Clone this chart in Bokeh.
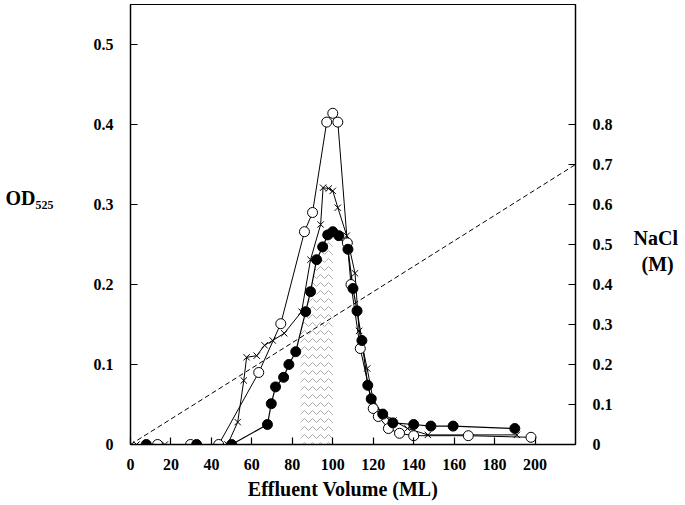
from bokeh.plotting import figure
from bokeh.models import Range1d, LinearAxis, FixedTicker
from bokeh.embed import file_html
from bokeh.resources import INLINE
import numpy as np

# ---- data ----
open_ml = [13.4, 29.7, 43.6, 63.4, 74.3, 86.0, 90.0, 97.0, 100.0, 102.5, 107.2, 109.0,
           113.6, 120.0, 122.5, 127.5, 133.0, 140.0, 167.0, 198.0]
open_od = [0.0, 0.0, 0.0, 0.090, 0.151, 0.266, 0.290, 0.403, 0.414, 0.403, 0.252, 0.200,
           0.120, 0.045, 0.035, 0.020, 0.014, 0.011, 0.011, 0.009]

filled_ml = [7.8, 32.7, 50.0, 67.7, 69.6, 71.7, 75.7, 78.3, 81.7, 86.6, 89.0, 92.0, 95.0,
             97.5, 100.0, 103.0, 107.5, 110.0, 112.0, 114.4, 117.3, 119.0, 124.7, 129.7,
             140.0, 148.5, 159.5, 190.0]
filled_od = [0.0, 0.0, 0.0, 0.025, 0.051, 0.072, 0.084, 0.100, 0.116, 0.166, 0.191, 0.231,
             0.247, 0.262, 0.266, 0.261, 0.244, 0.195, 0.167, 0.130, 0.074, 0.057, 0.038,
             0.027, 0.025, 0.023, 0.023, 0.020]

cross_ml = [3.0, 17.0, 48.0, 53.0, 56.0, 57.4, 62.4, 66.3, 70.3, 76.0, 84.6, 89.0, 94.0,
            95.2, 98.0, 100.0, 102.5, 106.9, 111.0, 113.0, 117.0, 120.0, 124.0, 130.0,
            137.0, 147.0, 191.0]
cross_od = [0.0, 0.0, 0.0, 0.028, 0.080, 0.109, 0.111, 0.124, 0.130, 0.139, 0.166, 0.231,
            0.275, 0.321, 0.320, 0.317, 0.296, 0.261, 0.214, 0.142, 0.095, 0.055, 0.040,
            0.030, 0.020, 0.012, 0.012]

gradient_ml = [0.0, 220.0]
gradient_nacl = [0.0, 0.7]

pooled_ml = [84.0, 100.0]

x_ticks = [0, 20, 40, 60, 80, 100, 120, 140, 160, 180, 200]
od_ticks = [0.0, 0.1, 0.2, 0.3, 0.4, 0.5]
nacl_ticks = [0.0, 0.1, 0.2, 0.3, 0.4, 0.5, 0.6, 0.7, 0.8]

FONT = "Liberation Serif"
TICK_SIZE = "16px"

p = figure(width=685, height=505, x_range=Range1d(0, 220), y_range=Range1d(0, 0.55),
           output_backend="svg", toolbar_location=None,
           min_border_left=130, min_border_right=110, min_border_top=4, min_border_bottom=61)
p.extra_y_ranges = {"nacl": Range1d(0, 1.1)}
p.xgrid.visible = False
p.ygrid.visible = False
p.outline_line_color = "black"
p.outline_line_width = 1.2
p.background_fill_color = "white"
p.border_fill_color = "white"


def style_axis(ax, standoff):
    ax.axis_line_color = "black"
    ax.axis_line_width = 1.3
    ax.major_tick_in = 7
    ax.major_tick_out = 0
    ax.major_tick_line_color = "black"
    ax.major_tick_line_width = 1.2
    ax.minor_tick_line_color = None
    ax.major_label_text_font = FONT
    ax.major_label_text_font_style = "bold"
    ax.major_label_text_font_size = TICK_SIZE
    ax.major_label_text_color = "black"
    ax.major_label_standoff = standoff
    ax.axis_label_text_font = FONT
    ax.axis_label_text_font_style = "bold"
    ax.axis_label_text_color = "black"


xax = p.xaxis[0]
xax.ticker = FixedTicker(ticks=x_ticks)
style_axis(xax, 14)
xax.axis_label = "Effluent Volume (ML)\u2003"
xax.axis_label_text_font_size = "20px"
xax.axis_label_standoff = 5

yax = p.yaxis[0]
yax.ticker = FixedTicker(ticks=od_ticks)
style_axis(yax, 17)
yax.major_label_overrides = {0: "0"}
yax.axis_label = "OD\u2085\u2082\u2085\n\u00a0\n\u00a0"
yax.axis_label_orientation = "horizontal"
yax.axis_label_text_font_size = "20px"
yax.axis_label_standoff = 37

rax = LinearAxis(y_range_name="nacl", ticker=FixedTicker(ticks=nacl_ticks))
style_axis(rax, 17)
rax.major_label_overrides = {0: "0"}
rax.axis_label = "\u00a0\n\u00a0\nNaCl\n\u2009\u2009(M)"
rax.axis_label_orientation = "horizontal"
rax.axis_label_text_font_size = "20px"
rax.axis_label_standoff = 18
p.add_layout(rax, "right")

# pooled fraction (hatched region under the filled-circle profile)
pool_x = [x for x in filled_ml if pooled_ml[0] < x < pooled_ml[1]]
pool_x = [pooled_ml[0]] + pool_x + [pooled_ml[1]]
pool_y = list(np.interp(pool_x, filled_ml, filled_od))
p.varea(x=pool_x, y1=[0] * len(pool_x), y2=pool_y, fill_color=None, fill_alpha=0,
        hatch_pattern="horizontal_wave", hatch_color="#9a9a9a", hatch_scale=8,
        hatch_weight=0.8)

# NaCl gradient
p.line(gradient_ml, gradient_nacl, y_range_name="nacl", line_color="black",
       line_width=1, line_dash="5 3")

# open circles
p.line(open_ml, open_od, line_color="black", line_width=1)
# crosses
p.line(cross_ml, cross_od, line_color="black", line_width=1)
# filled circles
p.line(filled_ml, filled_od, line_color="black", line_width=1.2)

p.scatter(cross_ml, cross_od, marker="x", size=9, line_color="black", line_width=1)
p.scatter(open_ml, open_od, marker="circle", size=10, fill_color="white",
          line_color="black", line_width=1)
p.scatter(filled_ml, filled_od, marker="circle", size=10, fill_color="black",
          line_color="black", line_width=1)

open("out.html", "w").write(file_html(p, INLINE))
